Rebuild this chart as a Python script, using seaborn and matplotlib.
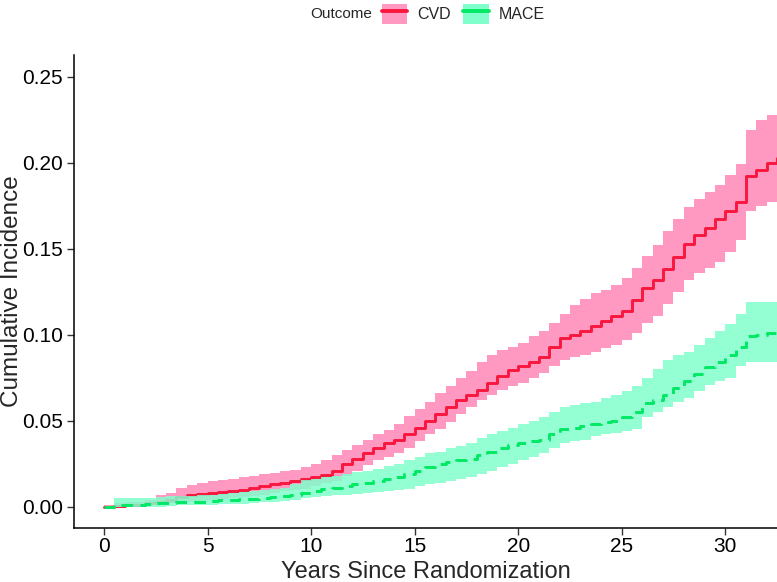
"""
Cumulative incidence of CVD and MACE by years since randomization
"""
import pandas as pd
import matplotlib
matplotlib.use("Agg")
import matplotlib.pyplot as plt
import seaborn as sns
from matplotlib.patches import Patch
from matplotlib.lines import Line2D

years = [0, 0.5, 1, 1.5, 2, 2.5, 3, 3.5, 4, 4.5,
         5, 5.5, 6, 6.5, 7, 7.5, 8, 8.5, 9, 9.5,
         10, 10.5, 11, 11.5, 12, 12.5, 13, 13.5, 14, 14.5,
         15, 15.5, 16, 16.5, 17, 17.5, 18, 18.5, 19, 19.5,
         20, 20.5, 21, 21.5, 22, 22.5, 23, 23.5, 24, 24.5,
         25, 25.5, 26, 26.5, 27, 27.5, 28, 28.5, 29, 29.5,
         30, 30.5, 31, 31.5, 32, 32.5]

cvd_est = [0, 0.0004, 0.0008, 0.001, 0.002, 0.003, 0.004, 0.0055, 0.0068, 0.0075,
           0.008, 0.0085, 0.009, 0.0098, 0.011, 0.012, 0.013, 0.014, 0.015, 0.0158,
           0.017, 0.0185, 0.021, 0.025, 0.028, 0.031, 0.034, 0.037, 0.039, 0.042,
           0.046, 0.050, 0.054, 0.058, 0.062, 0.065, 0.068, 0.072, 0.076, 0.0795,
           0.082, 0.084, 0.087, 0.093, 0.098, 0.100, 0.102, 0.105, 0.108, 0.111,
           0.114, 0.120, 0.127, 0.132, 0.138, 0.145, 0.153, 0.158, 0.162, 0.167,
           0.172, 0.177, 0.192, 0.196, 0.200, 0.203]
cvd_upper = [0.001, 0.002, 0.003, 0.003, 0.004, 0.0065, 0.008, 0.011, 0.0126, 0.014,
             0.015, 0.0155, 0.016, 0.017, 0.018, 0.019, 0.0196, 0.0205, 0.0215, 0.023,
             0.025, 0.027, 0.030, 0.033, 0.036, 0.039, 0.042, 0.0445, 0.048, 0.053,
             0.057, 0.061, 0.066, 0.070, 0.075, 0.079, 0.084, 0.088, 0.091, 0.093,
             0.095, 0.099, 0.102, 0.107, 0.112, 0.117, 0.121, 0.124, 0.126, 0.129,
             0.133, 0.139, 0.146, 0.152, 0.160, 0.167, 0.174, 0.179, 0.183, 0.187,
             0.193, 0.199, 0.219, 0.225, 0.228, 0.228]
cvd_lower = [0, 0, 0, 0, 0.001, 0.0015, 0.002, 0.0025, 0.003, 0.0035,
             0.004, 0.0045, 0.005, 0.0055, 0.006, 0.007, 0.008, 0.009, 0.0095, 0.0105,
             0.012, 0.0135, 0.015, 0.018, 0.021, 0.024, 0.027, 0.029, 0.031, 0.034,
             0.038, 0.042, 0.045, 0.049, 0.054, 0.058, 0.062, 0.065, 0.068, 0.070,
             0.072, 0.075, 0.078, 0.082, 0.0855, 0.087, 0.088, 0.090, 0.092, 0.094,
             0.097, 0.101, 0.107, 0.111, 0.118, 0.125, 0.132, 0.136, 0.139, 0.142,
             0.148, 0.155, 0.172, 0.175, 0.177, 0.178]

mace_est = [0, 0.001, 0.001, 0.001, 0.0015, 0.002, 0.002, 0.0025, 0.003, 0.003,
            0.0035, 0.004, 0.004, 0.0045, 0.0045, 0.005, 0.0055, 0.006, 0.007, 0.008,
            0.009, 0.010, 0.011, 0.012, 0.013, 0.014, 0.015, 0.016, 0.017, 0.019,
            0.021, 0.023, 0.025, 0.026, 0.027, 0.028, 0.030, 0.032, 0.034, 0.036,
            0.037, 0.038, 0.039, 0.042, 0.045, 0.046, 0.047, 0.048, 0.049, 0.050,
            0.052, 0.055, 0.060, 0.062, 0.065, 0.069, 0.073, 0.077, 0.081, 0.084,
            0.088, 0.093, 0.099, 0.100, 0.101, 0.101]
mace_upper = [0, 0.005, 0.005, 0.005, 0.005, 0.0055, 0.006, 0.006, 0.006, 0.0065,
              0.007, 0.0075, 0.008, 0.0085, 0.009, 0.0095, 0.010, 0.011, 0.013, 0.0155,
              0.016, 0.017, 0.018, 0.019, 0.020, 0.021, 0.022, 0.0235, 0.025, 0.027,
              0.029, 0.031, 0.032, 0.034, 0.035, 0.037, 0.040, 0.042, 0.044, 0.046,
              0.048, 0.050, 0.052, 0.055, 0.058, 0.059, 0.060, 0.061, 0.063, 0.065,
              0.067, 0.070, 0.075, 0.080, 0.085, 0.088, 0.090, 0.094, 0.098, 0.102,
              0.106, 0.112, 0.119, 0.119, 0.119, 0.119]
mace_lower = [0, 0, 0, 0, 0, 0, 0.0005, 0.0008, 0.001, 0.001,
              0.001, 0.0013, 0.0015, 0.0018, 0.002, 0.0025, 0.003, 0.0035, 0.004, 0.005,
              0.0055, 0.006, 0.0065, 0.007, 0.0075, 0.008, 0.0085, 0.009, 0.0095, 0.010,
              0.012, 0.013, 0.014, 0.015, 0.016, 0.0173, 0.019, 0.021, 0.023, 0.025,
              0.027, 0.029, 0.031, 0.034, 0.037, 0.038, 0.039, 0.041, 0.042, 0.043,
              0.044, 0.045, 0.052, 0.055, 0.058, 0.061, 0.063, 0.067, 0.071, 0.073,
              0.075, 0.082, 0.084, 0.084, 0.084, 0.084]

outcomes = ["CVD", "MACE"]
line_colors = {"CVD": "#F8173D", "MACE": "#00E864"}
band_colors = {"CVD": "#FF99C2", "MACE": "#80FFCC"}

df = pd.concat([
    pd.DataFrame({"time": years, "est": cvd_est, "lo": cvd_lower, "hi": cvd_upper, "Outcome": "CVD"}),
    pd.DataFrame({"time": years, "est": mace_est, "lo": mace_lower, "hi": mace_upper, "Outcome": "MACE"}),
], ignore_index=True)

sns.set_theme(style="ticks")
plt.rcParams["font.family"] = ["Liberation Sans", "DejaVu Sans"]

fig = plt.figure(figsize=(7.77, 5.82), dpi=100)
ax = fig.add_axes([0.0952, 0.0928, 0.9048, 0.8127])

# band, then line, per outcome so the MACE band sits over the CVD line
z = 1
for oc in outcomes:
    d = df[df["Outcome"] == oc]
    ax.fill_between(d["time"], d["lo"], d["hi"], step="post",
                    color=band_colors[oc], alpha=0.85 if oc == "MACE" else 1.0,
                    linewidth=0, zorder=z)
    sns.lineplot(data=d, x="time", y="est", ax=ax, color=line_colors[oc],
                 drawstyle="steps-post", estimator=None, linewidth=2.1,
                 linestyle="-" if oc == "CVD" else (0, (4, 2.5)),
                 legend=False, zorder=z + 1)
    z += 2

ax.set_xlim(-1.45, 32.5)
ax.set_ylim(-0.0124, 0.2626)
ax.set_xticks([0, 5, 10, 15, 20, 25, 30])
ax.set_yticks([0.00, 0.05, 0.10, 0.15, 0.20, 0.25])
ax.set_yticklabels(["0.00", "0.05", "0.10", "0.15", "0.20", "0.25"])
ax.tick_params(labelsize=15, length=5, width=1, color="#333333",
               labelcolor="black", pad=1.5)
ax.tick_params(axis="y", pad=3)
ax.set_xlabel("Years Since Randomization", fontsize=17, va="center")
ax.set_ylabel("Cumulative Incidence", fontsize=17.5, va="center")
ax.xaxis.set_label_coords(0.5, -0.092)
ax.yaxis.set_label_coords(-0.088, 0.5)
for side in ["top", "right"]:
    ax.spines[side].set_visible(False)
for side in ["left", "bottom"]:
    ax.spines[side].set_color("black")
    ax.spines[side].set_linewidth(1.1)

handles = []
for oc in outcomes:
    handles.append((Patch(facecolor=band_colors[oc], edgecolor="none"),
                    Line2D([], [], color=line_colors[oc], linewidth=2.8)))
fig.text(0.399, 0.976, "Outcome", fontsize=11, ha="left", va="center")
fig.legend(handles, outcomes, loc="center left", bbox_to_anchor=(0.491, 0.976),
           ncol=2, frameon=False, fontsize=11.5, handlelength=1.6, handleheight=1.6,
           columnspacing=0.75, handletextpad=0.65, borderaxespad=0, borderpad=0)

fig.savefig("out.png", dpi=100)
